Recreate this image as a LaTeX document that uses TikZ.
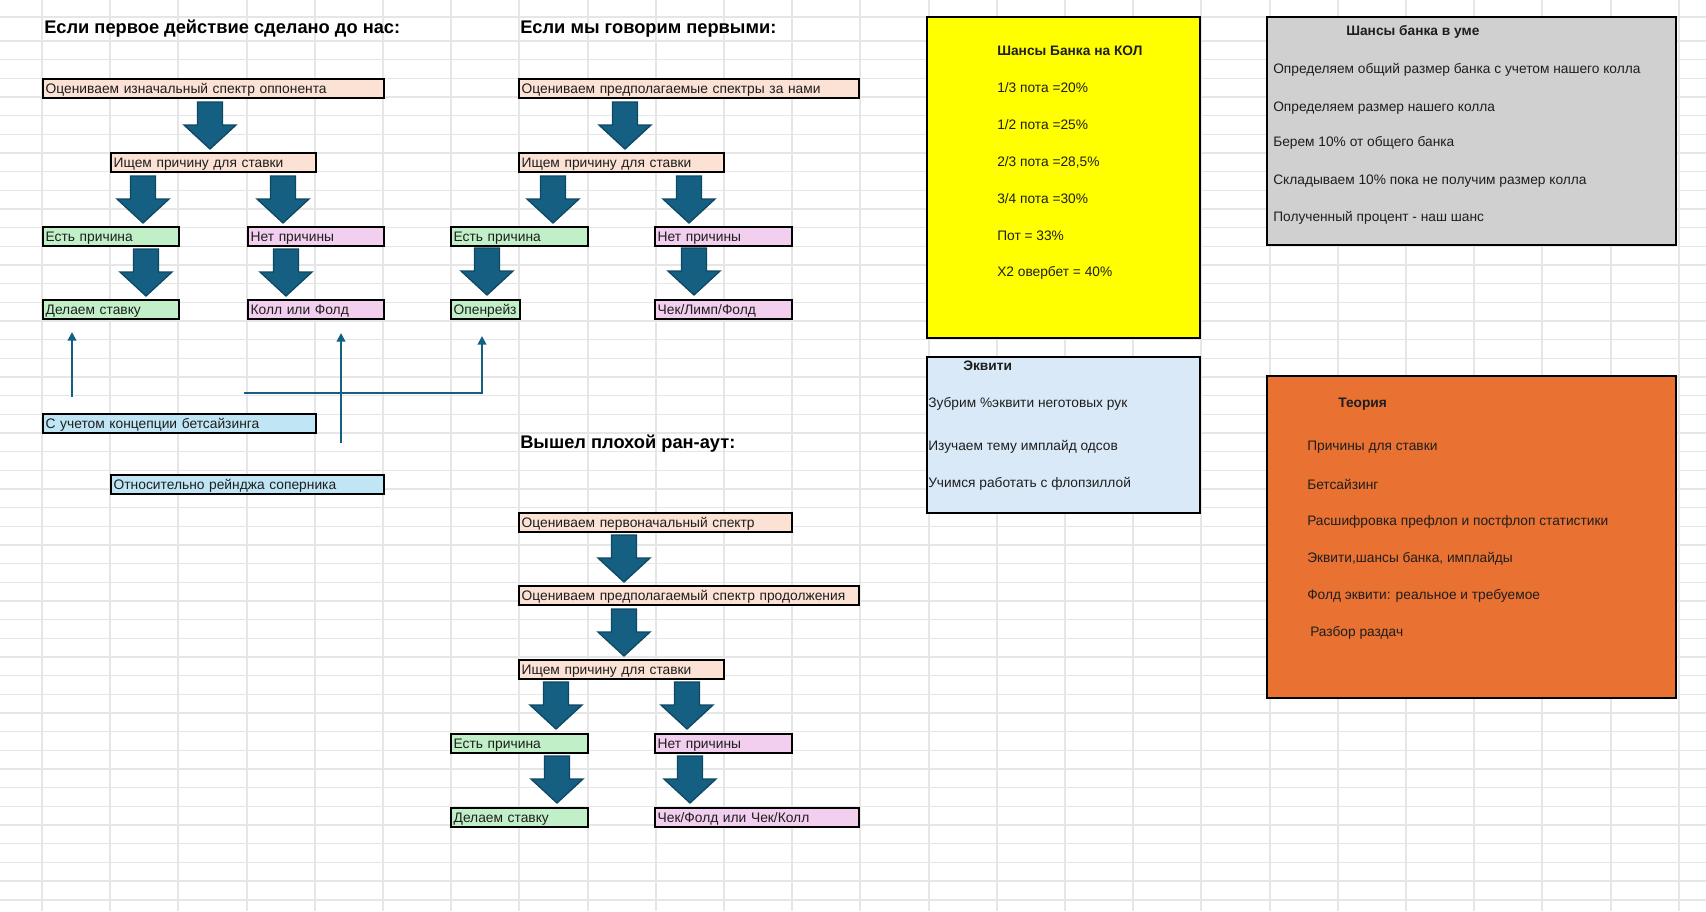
\documentclass[tikz,border=0pt]{standalone}
\usepackage{fontspec}
\setmainfont{Liberation Sans}
\usetikzlibrary{positioning,arrows.meta}
\definecolor{grid}{HTML}{E6E6E6}
\definecolor{ink}{HTML}{1E1E1E}
\definecolor{peach}{HTML}{FBE2D5}
\definecolor{mint}{HTML}{C1F0C8}
\definecolor{lilac}{HTML}{F2CEEF}
\definecolor{sky}{HTML}{C0E6F5}
\definecolor{deep}{HTML}{156082}
\definecolor{deeper}{HTML}{0F4863}
\definecolor{lemon}{HTML}{FFFF00}
\definecolor{frost}{HTML}{DAE9F8}
\definecolor{stone}{HTML}{D0D0D0}
\definecolor{rust}{HTML}{E97132}

\begin{document}
\begin{tikzpicture}[x=0.75pt,y=-0.75pt,
  cell/.style={draw=black,line width=1.5pt,anchor=north west,inner xsep=2pt,inner ysep=0pt,minimum height=14.25pt,text height=7.5pt,text depth=0pt,align=left,text=ink,font=\fontsize{10.35}{12}\selectfont},
  head/.style={anchor=west,inner sep=0pt,text=black,font=\fontsize{13.7}{16}\selectfont\bfseries},
  panel/.style={draw=black,line width=1.5pt,anchor=north west,inner sep=0pt},
  note/.style={anchor=west,inner sep=0pt,text=ink,font=\fontsize{10.3}{12}\selectfont},
  notehead/.style={note,font=\fontsize{10.3}{12}\selectfont\bfseries},
  link/.style={-{Triangle[width=6.5pt,length=6.5pt]},draw=deep,line width=1.4pt},
  barrow/.pic={\filldraw[fill=deep,draw=deeper,line width=1pt] (-12.5,0) -- (12.5,0) -- (12.5,23) -- (26,23) -- (0,47) -- (-26,23) -- (-12.5,23) -- cycle;}]
\useasboundingbox[fill=white] (0,0) rectangle (1706,911);
% sheet grid
\foreach \i in {0,...,24} \draw[grid,line width=1.5pt] (42+68.2*\i,0) -- (42+68.2*\i,911);
\draw[grid,line width=1pt] (0,17) -- (1706,17);
\foreach \k in {0,...,46} \draw[grid,line width=1pt] (0,41+18.67*\k) -- (1706,41+18.67*\k);

% first action before us
\node[head] (t1) at (44,29) {Если первое действие сделано до нас:};
\node[cell,fill=peach,text width=251.75pt] (a1) at (42,78) {Оцениваем изначальный спектр оппонента};
\node[cell,fill=peach,text width=149.75pt] (a2) at (110,152) {Ищем причину для ставки};
\node[cell,fill=mint,text width=98pt] (a3) at (42,226) {Есть причина};
\node[cell,fill=lilac,text width=98pt] (a4) at (247,226) {Нет причины};
\node[cell,fill=mint,text width=98pt] (a5) at (42,299) {Делаем ставку};
\node[cell,fill=lilac,text width=98pt] (a6) at (247,299) {Колл или Фолд};
\node[cell,fill=sky,text width=200.75pt] (a7) at (42,413) {С учетом концепции бетсайзинга};
\node[cell,fill=sky,text width=200.75pt] (a8) at (110,474) {Относительно рейнджа соперника};
\pic at (210,102) {barrow};\pic at (143,176) {barrow};\pic at (283,176) {barrow};\pic at (146,249) {barrow};\pic at (286,249) {barrow};

% we speak first
\node[head] (t2) at (520,29) {Если мы говорим первыми:};
\node[cell,fill=peach,text width=251pt] (b1) at (518,78) {Оцениваем предполагаемые спектры за нами};
\node[cell,fill=peach,text width=149.75pt] (b2) at (518,152) {Ищем причину для ставки};
\node[cell,fill=mint,text width=98.75pt] (b3) at (450,226) {Есть причина};
\node[cell,fill=lilac,text width=98.75pt] (b4) at (654,226) {Нет причины};
\node[cell,fill=mint,text width=47.75pt] (b5) at (450,299) {Опенрейз};
\node[cell,fill=lilac,text width=98.75pt] (b6) at (654,299) {Чек/Лимп/Фолд};
\pic at (625,102) {barrow};\pic at (553,176) {barrow};\pic at (689,176) {barrow};\pic at (487,248) {barrow};\pic at (694,248) {barrow};

% bad runout
\node[head] (t3) at (520,444) {Вышел плохой ран-аут:};
\node[cell,fill=peach,text width=200.75pt] (c1) at (518,512) {Оцениваем первоначальный спектр};
\node[cell,fill=peach,text width=251pt] (c2) at (518,585) {Оцениваем предполагаемый спектр продолжения};
\node[cell,fill=peach,text width=149.75pt] (c3) at (518,659) {Ищем причину для ставки};
\node[cell,fill=mint,text width=98.75pt] (c4) at (450,733) {Есть причина};
\node[cell,fill=lilac,text width=98.75pt] (c5) at (654,733) {Нет причины};
\node[cell,fill=mint,text width=98.75pt] (c6) at (450,807) {Делаем ставку};
\node[cell,fill=lilac,text width=149pt] (c7) at (654,807) {Чек/Фолд или Чек/Колл};
\pic at (624,535) {barrow};\pic at (624,609) {barrow};\pic at (556,682) {barrow};\pic at (687,682) {barrow};\pic at (557,756) {barrow};\pic at (690,756) {barrow};

% thin pointers
\coordinate (p1) at (72,397);\coordinate (p1e) at (72,332);
\coordinate (p2) at (341,443);\coordinate (p2e) at (341,333);
\coordinate (p3) at (244,393);\coordinate (p3e) at (482,336);
\draw[link] (p1)--(p1e);\draw[link] (p2)--(p2e);\draw[link] (p3)-|(p3e);

% pot odds panel
\node[panel,fill=lemon,minimum width=204.75pt,minimum height=240.75pt] (pk) at (926,16) {};
\node[notehead] (pk0) at (997,51) {Шансы Банка на КОЛ};
\node[note] (pk1) at (997,88) {1/3 пота =20\%};
\node[note] (pk2) at (997,125) {1/2 пота =25\%};
\node[note] (pk3) at (997,162) {2/3 пота =28,5\%};
\node[note] (pk4) at (997,199) {3/4 пота =30\%};
\node[note] (pk5) at (997,236) {Пот = 33\%};
\node[note] (pk6) at (997,273) {X2 овербет = 40\%};

% equity panel
\node[panel,fill=frost,minimum width=204.75pt,minimum height=117pt] (eq) at (926,356) {};
\node[notehead] (eq0) at (963,366) {Эквити};
\node[note] (eq1) at (928,404) {Зубрим \%эквити неготовых рук};
\node[note] (eq2) at (928,447) {Изучаем тему имплайд одсов};
\node[note] (eq3) at (928,484) {Учимся работать с флопзиллой};

% pot odds in mind panel
\node[panel,fill=stone,minimum width=306.75pt,minimum height=171pt] (pm) at (1266,16) {};
\node[notehead] (pm0) at (1346,32) {Шансы банка в уме};
\node[note] (pm1) at (1273,70) {Определяем общий размер банка с учетом нашего колла};
\node[note] (pm2) at (1273,108) {Определяем размер нашего колла};
\node[note] (pm3) at (1273,143) {Берем 10\% от общего банка};
\node[note] (pm4) at (1273,181) {Складываем 10\% пока не получим размер колла};
\node[note] (pm5) at (1273,218) {Полученный процент - наш шанс};

% theory panel
\node[panel,fill=rust,minimum width=306.75pt,minimum height=241.5pt] (th) at (1266,375) {};
\node[notehead] (th0) at (1338,404) {Теория};
\node[note] (th1) at (1307,447) {Причины для ставки};
\node[note] (th2) at (1307,484) {Бетсайзинг};
\node[note] (th3) at (1307,522) {Расшифровка префлоп и постфлоп статистики};
\node[note] (th4) at (1307,559) {Эквити,шансы банка, имплайды};
\node[note] (th5) at (1307,596) {Фолд эквити: реальное и требуемое};
\node[note] (th6) at (1310,633) {Разбор раздач};
\end{tikzpicture}
\end{document}
